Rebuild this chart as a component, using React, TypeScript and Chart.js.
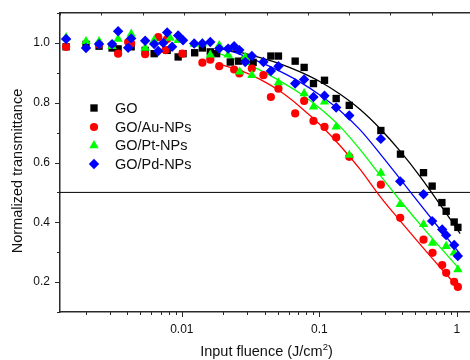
import React, { useEffect, useRef } from 'react';
import { Chart, registerables } from 'chart.js';
import { drawPoint } from 'chart.js/helpers';

Chart.register(...registerables);

// ---- data ----
const seriesNames = ['GO', 'GO/Au-NPs', 'GO/Pt-NPs', 'GO/Pd-NPs'];
const seriesColors = ['#000000', '#ff0000', '#00ff00', '#0000ff'];
const seriesStyles = ['rect', 'circle', 'triangle', 'rectRot'];
const seriesRadius = [5.2, 4.1, 5.4, 5.2];

const goFluence = [0.00144, 0.00201, 0.0025, 0.00311, 0.00344, 0.00428, 0.00541, 0.00629, 0.00782, 0.0094, 0.0102, 0.0124, 0.0141, 0.0161, 0.0179, 0.0225, 0.0258, 0.0289, 0.033, 0.0444, 0.0504, 0.0667, 0.0775, 0.0906, 0.109, 0.1325, 0.165, 0.28, 0.389, 0.572, 0.661, 0.778, 0.836, 0.956, 1.017];
const goTrans = [0.987, 0.995, 0.989, 0.983, 0.98, 0.987, 0.975, 0.964, 0.975, 0.953, 0.964, 0.967, 0.983, 0.97, 0.964, 0.936, 0.939, 0.943, 0.935, 0.956, 0.956, 0.939, 0.918, 0.864, 0.875, 0.814, 0.791, 0.707, 0.628, 0.566, 0.521, 0.466, 0.437, 0.401, 0.383];

const auFluence = [0.00144, 0.0025, 0.00344, 0.00407, 0.00428, 0.00541, 0.00673, 0.0076, 0.00782, 0.0101, 0.0141, 0.0161, 0.0187, 0.024, 0.0262, 0.0323, 0.0392, 0.0444, 0.0504, 0.0667, 0.0775, 0.0906, 0.109, 0.1325, 0.165, 0.28, 0.387, 0.572, 0.665, 0.782, 0.836, 0.956, 1.017];
const auTrans = [0.987, 0.995, 0.964, 1.003, 0.998, 0.962, 1.019, 0.976, 1.013, 0.964, 0.934, 0.944, 0.922, 0.911, 0.898, 0.914, 0.892, 0.819, 0.847, 0.764, 0.806, 0.739, 0.719, 0.684, 0.619, 0.526, 0.415, 0.342, 0.298, 0.257, 0.231, 0.201, 0.184];

const ptFluence = [0.00144, 0.00201, 0.0025, 0.00311, 0.00344, 0.00428, 0.00541, 0.00629, 0.00822, 0.0094, 0.0123, 0.0141, 0.0161, 0.0187, 0.0217, 0.0263, 0.0289, 0.0323, 0.0504, 0.0775, 0.0906, 0.109, 0.1325, 0.165, 0.28, 0.387, 0.572, 0.665, 0.836, 0.956, 1.017];
const ptTrans = [1.018, 1.005, 1.005, 0.989, 1.013, 1.03, 0.983, 1.009, 1.016, 1.009, 0.996, 0.998, 0.96, 0.992, 0.96, 0.903, 0.953, 0.892, 0.867, 0.831, 0.786, 0.803, 0.719, 0.625, 0.565, 0.46, 0.393, 0.331, 0.32, 0.298, 0.242];

const pdFluence = [0.00144, 0.00201, 0.0025, 0.00311, 0.00344, 0.00407, 0.00428, 0.00541, 0.00629, 0.00673, 0.00732, 0.00782, 0.0085, 0.0094, 0.0102, 0.0123, 0.0141, 0.0161, 0.0187, 0.0217, 0.024, 0.0262, 0.0289, 0.0323, 0.0392, 0.0444, 0.0504, 0.0667, 0.0775, 0.0906, 0.109, 0.1325, 0.165, 0.28, 0.387, 0.572, 0.661, 0.782, 0.836, 0.956, 1.017];
const pdTrans = [1.013, 0.983, 0.996, 0.996, 1.039, 0.984, 1.015, 1.007, 0.996, 0.973, 1.0, 1.035, 0.987, 1.025, 1.009, 0.998, 0.998, 1.003, 0.981, 0.981, 0.989, 0.976, 0.936, 0.956, 0.936, 0.906, 0.922, 0.864, 0.878, 0.819, 0.823, 0.784, 0.757, 0.679, 0.537, 0.494, 0.404, 0.376, 0.357, 0.324, 0.287];

// fitted curves
const fitFluence = [0.01899, 0.02655, 0.03711, 0.05188, 0.07252, 0.1014, 0.1417, 0.198, 0.2768, 0.3869, 0.5409, 0.7562, 1.057];
const fitGoTrans = [0.981, 0.968, 0.951, 0.93, 0.903, 0.87, 0.828, 0.777, 0.713, 0.638, 0.553, 0.459, 0.362];
const fitAuTrans = [0.928, 0.908, 0.878, 0.838, 0.786, 0.726, 0.656, 0.577, 0.486, 0.405, 0.326, 0.249, 0.175];
const fitPtTrans = [0.963, 0.939, 0.909, 0.872, 0.831, 0.781, 0.72, 0.643, 0.557, 0.473, 0.393, 0.316, 0.241];
const fitPdTrans = [0.982, 0.962, 0.936, 0.905, 0.869, 0.825, 0.773, 0.709, 0.629, 0.545, 0.46, 0.376, 0.294];

const halfLineFluence = [0.0013, 1.31];
const halfLineTrans = [0.5, 0.5];

const xMin = 0.0013;
const xMax = 1.31;
const xMajorTicks = [0.01, 0.1, 1];
const xTickLabels = ['0.01', '0.1', '1'];
const xMinorDecades = [0.001, 0.01, 0.1];
const xMinorMultipliers = [2, 3, 4, 5, 6, 7, 8, 9];
const yTicks = [0.1, 0.2, 0.3, 0.4, 0.5, 0.6, 0.7, 0.8, 0.9, 1.0, 1.1];
const yTickLabels = ['', '0.2', '', '0.4', '', '0.6', '', '0.8', '', '1.0', ''];
const topTicks = [0, 1, 2, 3, 4, 5, 6, 7, 8, 9, 10];

const xTitleMain = 'Input fluence (J/cm';
const xTitleSup = '2';
const xTitleEnd = ')';
const yTitle = 'Normalized transmittance';

const FONT = '"Liberation Sans", Arial, sans-serif';
const AXIS_COLOR = '#2a2a2a';

const pts = (xs: number[], ys: number[]) => xs.map((x, i) => ({ x, y: ys[i] }));

const xAllTicks: { value: number; major: boolean }[] = (() => {
  const out: { value: number; major: boolean }[] = [];
  xMinorDecades.forEach((d, i) => {
    xMinorMultipliers.forEach((m) => out.push({ value: +(d * m).toPrecision(6), major: false }));
    out.push({ value: xMajorTicks[i], major: true });
  });
  return out;
})();

const zeroPadding = (scale: any) => {
  scale.paddingTop = 0;
  scale.paddingBottom = 0;
  scale.paddingLeft = 0;
  scale.paddingRight = 0;
};

const overlayPlugin = {
  id: 'overlay',
  afterDraw(chart: any) {
    const ctx = chart.ctx as CanvasRenderingContext2D;
    const area = chart.chartArea;
    const xs = chart.scales.x;
    const ys = chart.scales.y;
    const x2 = chart.scales.x2;
    ctx.save();
    ctx.strokeStyle = AXIS_COLOR;
    ctx.lineWidth = 1;
    xAllTicks.forEach((t) => {
      const px = Math.round(xs.getPixelForValue(t.value)) + 0.5;
      const len = t.major ? 5 : 3;
      ctx.beginPath();
      ctx.moveTo(px, area.bottom);
      ctx.lineTo(px, area.bottom + len);
      ctx.stroke();
    });
    yTicks.forEach((v, i) => {
      const py = Math.round(ys.getPixelForValue(v)) + 0.5;
      const len = yTickLabels[i] ? 5 : 3;
      ctx.beginPath();
      ctx.moveTo(area.left, py);
      ctx.lineTo(area.left - len, py);
      ctx.stroke();
    });
    topTicks.forEach((v) => {
      const px = Math.round(x2.getPixelForValue(v)) + 0.5;
      ctx.beginPath();
      ctx.moveTo(px, area.top);
      ctx.lineTo(px, area.top + 2.5);
      ctx.stroke();
    });

    // legend
    const legendX = 94;
    const legendTextX = 115;
    const legendY = [108, 127, 145.5, 164];
    ctx.font = `14.5px ${FONT}`;
    ctx.textBaseline = 'middle';
    ctx.textAlign = 'left';
    seriesNames.forEach((name, i) => {
      ctx.fillStyle = seriesColors[i];
      drawPoint(ctx, { pointStyle: seriesStyles[i], radius: seriesRadius[i], borderWidth: 0, rotation: 0 } as any, legendX, legendY[i]);
      ctx.fillStyle = '#111';
      ctx.fillText(name, legendTextX, legendY[i] + 0.5);
    });

    // axis titles
    ctx.fillStyle = '#111';
    ctx.font = `14.5px ${FONT}`;
    const wMain = ctx.measureText(xTitleMain).width;
    ctx.font = `9.5px ${FONT}`;
    const wSup = ctx.measureText(xTitleSup).width;
    ctx.font = `14.5px ${FONT}`;
    const wEnd = ctx.measureText(xTitleEnd).width;
    const total = wMain + wSup + wEnd;
    const cx = (area.left + area.right) / 2;
    let tx = cx - total / 2;
    const ty = 352;
    ctx.textAlign = 'left';
    ctx.textBaseline = 'middle';
    ctx.fillText(xTitleMain, tx, ty);
    tx += wMain;
    ctx.font = `9.5px ${FONT}`;
    ctx.fillText(xTitleSup, tx, ty - 5);
    tx += wSup;
    ctx.font = `14.5px ${FONT}`;
    ctx.fillText(xTitleEnd, tx, ty);

    ctx.save();
    ctx.translate(18, 171);
    ctx.rotate(-Math.PI / 2);
    ctx.textAlign = 'center';
    ctx.textBaseline = 'middle';
    ctx.fillText(yTitle, 0, 0);
    ctx.restore();

    ctx.restore();
  },
};

export default function App() {
  const canvasRef = useRef<HTMLCanvasElement | null>(null);

  useEffect(() => {
    if (!canvasRef.current) return;
    const scatterSets = [
      [goFluence, goTrans],
      [auFluence, auTrans],
      [ptFluence, ptTrans],
      [pdFluence, pdTrans],
    ].map(([xs, ys], i) => ({
      type: 'scatter' as const,
      label: seriesNames[i],
      data: pts(xs, ys),
      pointStyle: seriesStyles[i],
      pointRadius: seriesRadius[i],
      pointBackgroundColor: seriesColors[i],
      pointBorderWidth: 0,
      backgroundColor: seriesColors[i],
      borderColor: seriesColors[i],
      showLine: false,
      order: 4 - i,
      xAxisID: 'x',
      yAxisID: 'y',
    }));
    const fitSets = [fitGoTrans, fitAuTrans, fitPtTrans, fitPdTrans].map((ys, i) => ({
      type: 'scatter' as const,
      label: seriesNames[i] + ' fit',
      data: pts(fitFluence, ys),
      showLine: true,
      pointRadius: 0,
      borderColor: seriesColors[i],
      borderWidth: 1.3,
      cubicInterpolationMode: 'monotone' as const,
      fill: false,
      order: 5 + i,
      xAxisID: 'x',
      yAxisID: 'y',
    }));
    const halfSet = {
      type: 'scatter' as const,
      label: 'T = 0.5',
      data: pts(halfLineFluence, halfLineTrans),
      showLine: true,
      pointRadius: 0,
      borderColor: '#000',
      borderWidth: 1,
      order: 10,
      xAxisID: 'x',
      yAxisID: 'y',
    };

    const chart = new Chart(canvasRef.current, {
      type: 'scatter',
      data: { datasets: [...scatterSets, ...fitSets, halfSet] as any },
      plugins: [overlayPlugin],
      options: {
        animation: false,
        responsive: false,
        devicePixelRatio: 1,
        layout: { padding: { left: 0, right: 17, top: 0, bottom: 0 } },
        plugins: { legend: { display: false }, tooltip: { enabled: false }, title: { display: false } },
        scales: {
          x: {
            type: 'logarithmic',
            position: 'bottom',
            min: xMin,
            max: xMax,
            afterBuildTicks: (scale: any) => {
              scale.ticks = xAllTicks.map((t) => ({ value: t.value, major: t.major }));
            },
            afterFit: (scale: any) => {
              scale.height = 48;
              zeroPadding(scale);
            },
            grid: { display: false, drawTicks: false },
            border: { display: true, color: AXIS_COLOR, width: 1.5 },
            ticks: {
              autoSkip: false,
              maxRotation: 0,
              padding: 10,
              color: '#111',
              font: { family: FONT, size: 12 },
              callback: (value: any) => {
                const idx = xMajorTicks.findIndex((m) => Math.abs(m - Number(value)) / m < 1e-6);
                return idx >= 0 ? xTickLabels[idx] : '';
              },
            },
          },
          x2: {
            type: 'linear',
            position: 'top',
            min: 0,
            max: 10,
            afterBuildTicks: (scale: any) => {
              scale.ticks = topTicks.map((v) => ({ value: v }));
            },
            afterFit: (scale: any) => {
              scale.height = 13;
              zeroPadding(scale);
            },
            grid: { display: false, drawTicks: false },
            border: { display: true, color: AXIS_COLOR, width: 1.5 },
            ticks: { display: false },
          },
          y: {
            type: 'linear',
            position: 'left',
            min: 0.1,
            max: 1.1,
            afterBuildTicks: (scale: any) => {
              scale.ticks = yTicks.map((v) => ({ value: v }));
            },
            afterFit: (scale: any) => {
              scale.width = 60;
              zeroPadding(scale);
            },
            grid: { display: false, drawTicks: false },
            border: { display: true, color: AXIS_COLOR, width: 1.5 },
            ticks: {
              autoSkip: false,
              padding: 10,
              color: '#111',
              font: { family: FONT, size: 12 },
              callback: (_v: any, index: number) => yTickLabels[index] ?? '',
            },
          },
        },
      } as any,
    });
    return () => chart.destroy();
  }, []);

  return (
    <div style={{ position: 'absolute', left: 0, top: 0, width: 470, height: 360, overflow: 'hidden', background: '#fff' }}>
      <canvas ref={canvasRef} width={490} height={360} style={{ width: 490, height: 360, display: 'block' }} />
    </div>
  );
}
